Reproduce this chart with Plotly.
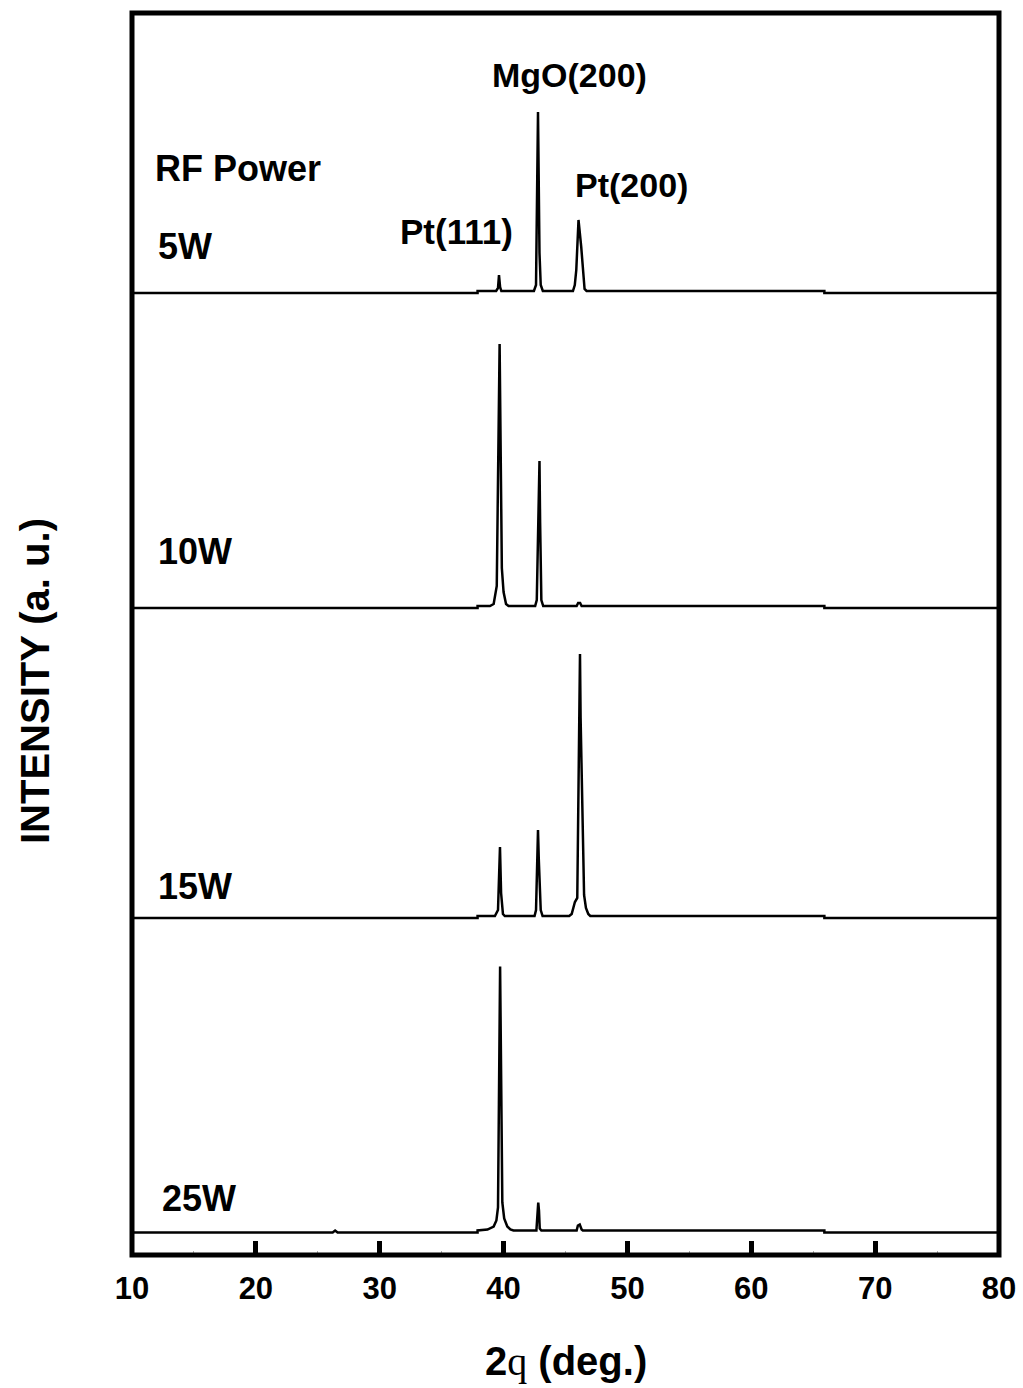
import plotly.graph_objects as go
from plotly.subplots import make_subplots

# ---------------- data (intensity in a.u.) ----------------
labels = ["5W", "10W", "15W", "25W"]

x_5w = [10, 37.9, 37.9, 39.4, 39.55, 39.63, 39.72, 39.82, 42.45, 42.62, 42.78, 42.82, 42.86, 42.9, 43.0, 43.17,
        45.6, 45.75, 45.87, 46.05, 46.27, 46.4, 46.54, 46.7, 65.9, 65.9, 80]
y_5w = [0, 0, 2, 2, 5, 18, 6, 2, 2, 8, 181, 120, 58, 40, 8, 2,
        2, 8, 23, 73, 46, 20, 4, 2, 2, 0, 0]

x_10w = [10, 37.9, 37.9, 38.9, 39.2, 39.45, 39.68, 39.75, 39.86, 40.0, 40.2, 40.4,
         42.55, 42.68, 42.9, 42.95, 42.99, 43.05, 43.2,
         45.9, 46.02, 46.18, 46.3, 65.9, 65.9, 80]
y_10w = [0, 0, 2, 2, 4, 22, 264, 150, 40, 16, 4, 2,
         2, 8, 147, 86, 60, 8, 2,
         2, 5, 5, 2, 2, 0, 0]

x_15w = [10, 37.9, 37.9, 39.3, 39.55, 39.71, 39.8, 39.95, 40.1,
         42.5, 42.62, 42.78, 42.84, 42.88, 43.0, 43.15,
         45.3, 45.5, 45.76, 45.95, 46.17, 46.22, 46.27, 46.5, 46.65, 46.84, 47.0, 65.9, 65.9, 80]
y_15w = [0, 0, 2, 2, 8, 71, 25, 4, 2,
         2, 8, 88, 60, 45, 8, 2,
         2, 4, 16, 20, 264, 200, 171, 23, 10, 4, 2, 2, 0, 0]

x_25w = [10, 26.2, 26.4, 26.6, 37.9, 37.9, 38.7, 39.2, 39.42, 39.55, 39.72, 39.8, 39.9, 40.05, 40.3, 40.55, 40.8,
         42.65, 42.8, 42.86, 42.92, 43.05,
         45.9, 46.0, 46.15, 46.3, 46.4, 65.9, 65.9, 80]
y_25w = [0, 0, 2, 0, 0, 2, 3, 6, 12, 25, 266, 150, 30, 14, 6, 3, 2,
         2, 30, 22, 4, 2,
         2, 7, 8, 3, 2, 2, 0, 0]

series_x = [x_5w, x_10w, x_15w, x_25w]
series_y = [y_5w, y_10w, y_15w, y_25w]

x_ticks = [10, 20, 30, 40, 50, 60, 70, 80]
peak_labels = ["MgO(200)", "Pt(111)", "Pt(200)"]

# ---------------- figure ----------------
W, H = 1023, 1388
L, R, T, B = 132, 999, 13, 1255
pw, ph = R - L, B - T

def px(x):
    return (x - L) / pw

def py(y):
    return (B - y) / ph

FONT = "Arial, Liberation Sans, Helvetica, sans-serif"

fig = make_subplots(rows=4, cols=1, shared_xaxes=True, vertical_spacing=0)

panel_ranges = [[-30.5, 280], [-26, 284.5], [-26.5, 284], [-22.5, 288]]

for i in range(4):
    fig.add_trace(go.Scatter(x=series_x[i], y=series_y[i], mode="lines",
                             line=dict(color="black", width=2.5),
                             name=labels[i], showlegend=False,
                             hoverinfo="skip"), row=i + 1, col=1)
    fig.update_yaxes(range=panel_ranges[i], showticklabels=False, ticks="",
                     showgrid=False, zeroline=False, showline=False, automargin=False,
                     row=i + 1, col=1)
    if i < 3:
        fig.update_xaxes(showticklabels=False, ticks="", showgrid=False,
                         zeroline=False, showline=False, row=i + 1, col=1)

fig.update_xaxes(range=[10, 80], automargin=False)
fig.update_xaxes(tickvals=x_ticks, ticktext=[str(v) for v in x_ticks],
                 ticks="inside", ticklen=14, tickwidth=5, tickcolor="black",
                 tickfont=dict(family=FONT, size=31, color="black", weight="bold"),
                 ticklabelstandoff=12,
                 showgrid=False, zeroline=False, showline=False,
                 minor=dict(ticks="inside", dtick=5, tick0=10, ticklen=4,
                            tickwidth=1, tickcolor="#aaaaaa"),
                 row=4, col=1)

# frame
fig.add_shape(type="rect", xref="paper", yref="paper", x0=0, x1=1, y0=0, y1=1,
              line=dict(color="black", width=5), layer="above")

texts = [
    ("RF Power", 238, 168, "center", 36),
    ("5W", 156, 247, "left", 36),
    ("10W", 156, 551, "left", 36),
    ("15W", 156, 886, "left", 36),
    ("25W", 160, 1198, "left", 36),
    (peak_labels[0], 569, 75, "center", 34),
    (peak_labels[1], 456, 231, "center", 35),
    (peak_labels[2], 631, 185, "center", 34),
]
for t, x, y, anc, size in texts:
    fig.add_annotation(text=t, x=px(x), y=py(y), xref="paper", yref="paper",
                       xanchor=anc, yanchor="middle", showarrow=False,
                       font=dict(family=FONT, size=size, color="black", weight="bold"))

title_font = dict(family=FONT, size=40, color="black", weight="bold")
fig.add_annotation(text="INTENSITY (a. u.)", x=px(35), y=py(681), xref="paper", yref="paper",
                   xanchor="center", yanchor="middle", textangle=-90, showarrow=False,
                   font=title_font)
fig.add_annotation(text="2<span style='font-family:Liberation Serif, Times New Roman, serif; font-weight:normal'>q</span> (deg.)",
                   x=px(566), y=py(1361), xref="paper", yref="paper",
                   xanchor="center", yanchor="middle", showarrow=False, font=title_font)

fig.update_layout(width=W, height=H, margin=dict(l=L, r=W - R, t=T, b=H - B, pad=0, autoexpand=False),
                  paper_bgcolor="white", plot_bgcolor="white")

fig.write_html("out.html", config={"displayModeBar": False},
               post_script="document.body.style.margin='0px';document.body.style.overflow='hidden';")
